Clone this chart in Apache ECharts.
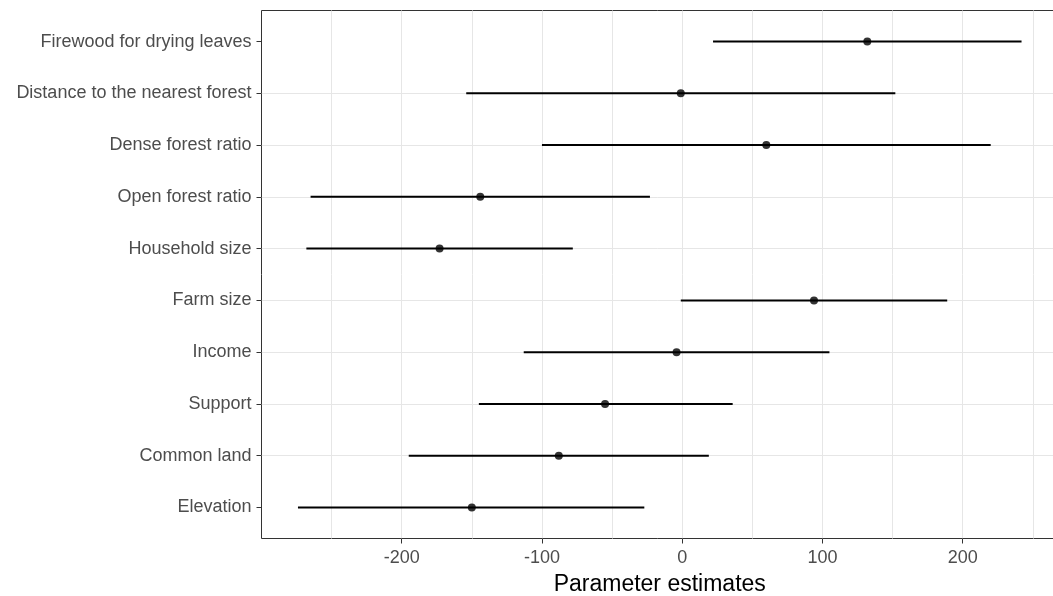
<!DOCTYPE html>
<html><head><meta charset="utf-8">
<script src="https://cdn.jsdelivr.net/npm/echarts@6/dist/echarts.min.js"></script>
<style>html,body{margin:0;padding:0;background:#fff}#c{width:1053px;height:596px}</style>
</head><body><div id="c"></div>
<script>
const categories = ['Firewood for drying leaves', 'Distance to the nearest forest', 'Dense forest ratio', 'Open forest ratio', 'Household size', 'Farm size', 'Income', 'Support', 'Common land', 'Elevation'];
const estimates = [132, -1, 60, -144, -173, 94, -4, -55, -88, -150];
const lower = [22, -154, -100, -265, -268, -1, -113, -145, -195, -274];
const upper = [242, 152, 220, -23, -78, 189, 105, 36, 19, -27];
const xTicks = [-200, -100, 0, 100, 200];
const xTitle = 'Parameter estimates';

const FONT = 'Liberation Sans, Arial, sans-serif';
const idx = categories.map((c, i) => i);
const chart = echarts.init(document.getElementById('c'), null, {renderer: 'canvas'});
chart.setOption({
  animation: false,
  backgroundColor: '#ffffff',
  grid: {left: 261.5, right: -5, top: 10.5, bottom: 57.5, outerBoundsMode: 'none', containLabel: false,
    show: true, borderColor: '#333333', borderWidth: 1, backgroundColor: '#ffffff', z: 0},
  xAxis: [{
    type: 'value', min: -300, max: 268, interval: 50, position: 'bottom',
    axisLine: {show: false, onZero: false}, axisTick: {show: false}, axisLabel: {show: false},
    splitLine: {show: true, showMinLine: false, showMaxLine: false, lineStyle: {color: '#e6e6e6', width: 1}}
  }, {
    type: 'value', min: -300, max: 268, position: 'bottom',
    axisLine: {show: false, onZero: false},
    axisTick: {show: true, customValues: xTicks, length: 5, lineStyle: {color: '#333333', width: 1}},
    axisLabel: {show: true, customValues: xTicks, fontSize: 18, color: '#4d4d4d', margin: 11, fontFamily: FONT},
    splitLine: {show: false},
    name: xTitle, nameLocation: 'middle', nameGap: 35,
    nameTextStyle: {fontSize: 23, color: '#000000', fontFamily: FONT}
  }],
  yAxis: {
    type: 'value', inverse: true, min: -0.6, max: 9.6,
    axisLine: {show: false, onZero: false},
    axisTick: {show: true, customValues: idx, length: 5, lineStyle: {color: '#333333', width: 1}},
    axisLabel: {show: true, customValues: idx, fontSize: 18, color: '#4d4d4d', margin: 10, fontFamily: FONT,
      formatter: v => categories[Math.round(v)]},
    splitLine: {show: true, showMinLine: false, showMaxLine: false, lineStyle: {color: '#e6e6e6', width: 1}}
  },
  series: [{
    type: 'custom', xAxisIndex: 0, z: 3,
    data: idx.map(i => [lower[i], upper[i], i]),
    encode: {x: [0, 1], y: 2},
    renderItem: function (params, api) {
      const a = api.coord([api.value(0), api.value(2)]);
      const b = api.coord([api.value(1), api.value(2)]);
      return {type: 'line', shape: {x1: a[0], y1: a[1], x2: b[0], y2: b[1]}, style: {stroke: '#000000', lineWidth: 2}};
    }
  }, {
    type: 'scatter', xAxisIndex: 0, symbol: 'circle', symbolSize: 8, z: 4,
    itemStyle: {color: '#000000'},
    data: idx.map(i => [estimates[i], i])
  }]
});
</script></body></html>
